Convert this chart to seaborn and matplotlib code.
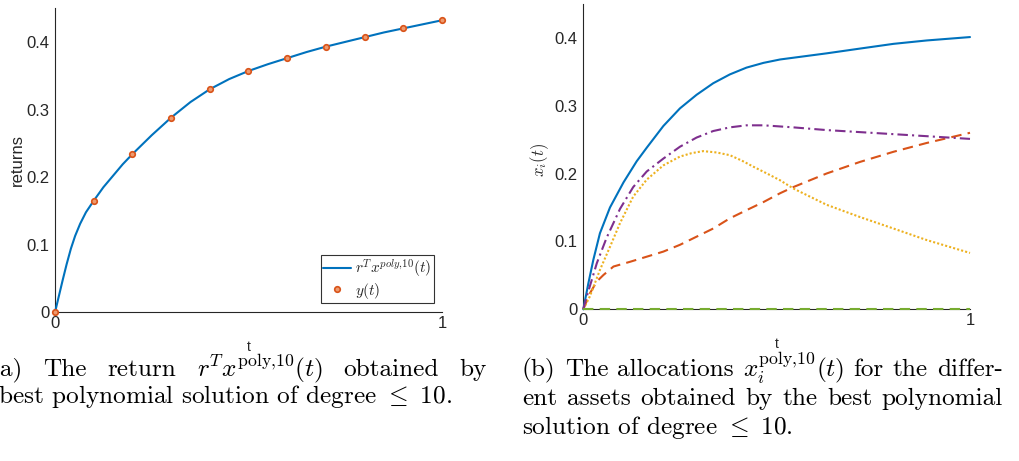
import numpy as np
import pandas as pd
import matplotlib
matplotlib.use("Agg")
import matplotlib.pyplot as plt
from matplotlib.lines import Line2D
import seaborn as sns

# ---------------- data ----------------
# (a) returns curve r^T x^{poly,10}(t)
curve_t = [0, 0.01, 0.02, 0.03, 0.041, 0.052, 0.065, 0.08, 0.1, 0.125, 0.15, 0.175,
           0.2, 0.25, 0.3, 0.35, 0.4, 0.45, 0.5, 0.55, 0.6, 0.65, 0.7, 0.75, 0.8,
           0.85, 0.9, 0.95, 1.0]
curve_y = [0, 0.024, 0.048, 0.071, 0.094, 0.113, 0.131, 0.148, 0.165, 0.185, 0.202,
           0.219, 0.234, 0.262, 0.288, 0.311, 0.330, 0.345, 0.357, 0.367, 0.376,
           0.385, 0.393, 0.400, 0.407, 0.414, 0.420, 0.426, 0.432]
# (a) target returns y(t)
pts_t = [0, 0.1, 0.2, 0.3, 0.4, 0.5, 0.6, 0.7, 0.8, 0.9, 1.0]
pts_y = [0, 0.165, 0.234, 0.288, 0.330, 0.357, 0.376, 0.393, 0.407, 0.420, 0.432]

# (b) allocations x_i(t)
x1_t = [0, 0.013, 0.026, 0.043, 0.069, 0.104, 0.138, 0.164, 0.207, 0.25, 0.293,
        0.336, 0.379, 0.422, 0.466, 0.509, 0.629, 0.715, 0.802, 0.888, 1.0]
x1_v = [0, 0.038, 0.073, 0.112, 0.150, 0.187, 0.218, 0.238, 0.270, 0.296, 0.316,
        0.333, 0.346, 0.356, 0.363, 0.368, 0.377, 0.384, 0.391, 0.396, 0.401]

x2_t = [0, 0.017, 0.035, 0.052, 0.078, 0.121, 0.164, 0.207, 0.25, 0.293, 0.336,
        0.379, 0.422, 0.466, 0.509, 0.543, 0.629, 0.715, 0.802, 0.888, 1.0]
x2_v = [0, 0.0235, 0.041, 0.0505, 0.063, 0.070, 0.0775, 0.085, 0.095, 0.107, 0.119,
        0.134, 0.146, 0.158, 0.171, 0.180, 0.200, 0.217, 0.232, 0.245, 0.260]

x3_t = [0, 0.017, 0.043, 0.069, 0.095, 0.129, 0.164, 0.207, 0.25, 0.28, 0.31, 0.345,
        0.379, 0.41, 0.44, 0.475, 0.509, 0.543, 0.586, 0.629, 0.715, 0.802, 0.888, 1.0]
x3_v = [0, 0.019, 0.058, 0.092, 0.127, 0.166, 0.191, 0.212, 0.225, 0.230, 0.233, 0.231,
        0.227, 0.219, 0.210, 0.200, 0.190, 0.178, 0.166, 0.154, 0.136, 0.119, 0.102, 0.083]

x4_t = [0, 0.009, 0.035, 0.060, 0.095, 0.129, 0.164, 0.207, 0.25, 0.293, 0.336,
        0.379, 0.422, 0.466, 0.543, 0.629, 0.715, 0.802, 0.888, 1.0]
x4_v = [0, 0.019, 0.068, 0.105, 0.148, 0.180, 0.203, 0.222, 0.2395, 0.253, 0.2626,
        0.268, 0.271, 0.271, 0.268, 0.264, 0.261, 0.258, 0.255, 0.251]

x5_t = [0, 1.0]
x5_v = [0, 0]

y_ticks = [0, 0.1, 0.2, 0.3, 0.4]
y_tick_labels = ["0", "0.1", "0.2", "0.3", "0.4"]
x_ticks = [0, 1]
x_tick_labels = ["0", "1"]

# ---------------- style ----------------
sns.set_style("white")
plt.rcParams["font.family"] = ["Liberation Sans", "DejaVu Sans"]
plt.rcParams["mathtext.fontset"] = "cm"

BLUE, ORANGE, YELLOW, PURPLE, GREEN = "#0072BD", "#D95319", "#EDB120", "#7E2F8E", "#77AC30"
AXC = "#262626"
W, H = 1020, 461

fig = plt.figure(figsize=(W / 100, H / 100), dpi=100)
ax1 = fig.add_axes([55 / W, (H - 312.3) / H, 387 / W, 304.2 / H])
ax2 = fig.add_axes([583.3 / W, (H - 309.3) / H, 386.7 / W, 305.5 / H])


def style(ax):
    ax.set_xlim(0, 1)
    ax.set_ylim(0, 0.45)
    for s in ("top", "right"):
        ax.spines[s].set_visible(False)
    for s in ("left", "bottom"):
        ax.spines[s].set_color(AXC)
        ax.spines[s].set_linewidth(0.8)
    ax.set_xticks(x_ticks)
    ax.set_xticklabels(x_tick_labels)
    ax.set_yticks(y_ticks)
    ax.set_yticklabels(y_tick_labels)
    ax.tick_params(direction="in", length=4, width=0.8, colors=AXC,
                   labelsize=12, labelcolor=AXC)
    ax.tick_params(axis="x", pad=3)
    ax.tick_params(axis="y", pad=4)
    ax.set_facecolor("white")


# ---------------- (a) ----------------
df_curve = pd.DataFrame({"t": curve_t, "y": curve_y})
df_pts = pd.DataFrame({"t": pts_t, "y": pts_y})
sns.lineplot(data=df_curve, x="t", y="y", ax=ax1, color=BLUE, linewidth=1.5,
             clip_on=False, zorder=3)
sns.scatterplot(data=df_pts, x="t", y="y", ax=ax1, marker="o", s=16,
                facecolor="#EE9A6E", edgecolor=ORANGE, linewidth=1.2,
                clip_on=False, zorder=4)
style(ax1)
ax1.set_xlabel("t", fontsize=10, color=AXC)
ax1.xaxis.set_label_coords(0.5, -0.09)
ax1.set_ylabel("returns", fontsize=12, color=AXC)
ax1.yaxis.label.set_va("center")
ax1.yaxis.set_label_coords(-0.098, 0.5)

handles = [Line2D([], [], color=BLUE, lw=1.5),
           Line2D([], [], ls="none", marker="o", ms=4, mfc="#EE9A6E",
                  mec=ORANGE, mew=1.2)]
leg = ax1.legend(handles, [r"$r^Tx^{poly{,}10}(t)$", r"$y(t)$"],
                 loc="lower right", bbox_to_anchor=(0.979, 0.031),
                 borderaxespad=0, fontsize=11, frameon=True, fancybox=False,
                 handlelength=1.8, handletextpad=0.3, borderpad=0.15,
                 labelspacing=0.05)
leg.get_frame().set_edgecolor("black")
leg.get_frame().set_linewidth(0.8)

# ---------------- (b) ----------------
series = [(x1_t, x1_v, BLUE, "-"), (x2_t, x2_v, ORANGE, (0, (5, 3))),
          (x3_t, x3_v, YELLOW, (0, (1, 1))), (x4_t, x4_v, PURPLE, (0, (5, 2, 1, 2))),
          (x5_t, x5_v, GREEN, (0, (5, 3)))]
for tt, vv, col, ls in series:
    d = pd.DataFrame({"t": tt, "v": vv})
    sns.lineplot(data=d, x="t", y="v", ax=ax2, color=col, linewidth=1.5,
                 linestyle=ls, clip_on=False, zorder=3)
style(ax2)
ax2.set_xlabel("t", fontsize=10, color=AXC)
ax2.xaxis.set_label_coords(0.5, -0.09)
ax2.set_ylabel(r"$x_i(t)$", fontsize=12, color=AXC)
ax2.yaxis.label.set_va("center")
ax2.yaxis.set_label_coords(-0.112, 0.49)

# ---------------- captions ----------------
CAP = dict(family=["cmr10", "DejaVu Serif"], fontsize=18.2, color="black",
           va="baseline", ha="left")
renderer = fig.canvas.get_renderer()


def caption_line(words, x0, y, x1=None):
    if x1 is None:
        fig.text(x0 / W, 1 - y / H, " ".join(words), **CAP)
        return
    texts = [fig.text(0, 1 - y / H, w, **CAP) for w in words]
    widths = [t.get_window_extent(renderer).width for t in texts]
    gap = (x1 - x0 - sum(widths)) / (len(words) - 1)
    x = x0
    for t, w in zip(texts, widths):
        t.set_x(x / W)
        x += w + gap


caption_line(["(a)", "The", "return", r"$r^Tx^{\mathrm{poly}{,}10}(t)$",
              "obtained", "by"], -10, 376, 487)
caption_line(["best", "polynomial", "solution", "of", "degree", r"$\leq\ 10$."], -2, 403)
caption_line(["(b)", "The", "allocations", r"$x_i^{\mathrm{poly}{,}10}(t)$",
              "for", "the", "differ-"], 522, 376, 1003)
caption_line(["ent", "assets", "obtained", "by", "the", "best", "polynomial"],
             522, 405, 1003)
caption_line(["solution", "of", "degree", r"$\leq\ 10$."], 522, 434)

fig.savefig("out.png", dpi=100, facecolor="white")
